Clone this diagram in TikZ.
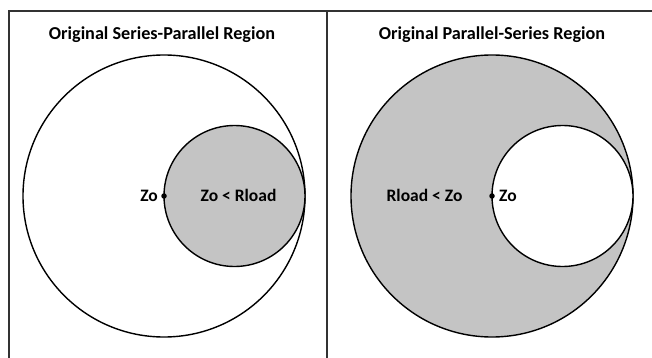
\documentclass[tikz,border=0pt]{standalone}
\usepackage{fontspec}
\setmainfont{Carlito}
\definecolor{regiongray}{RGB}{196,196,196}
\definecolor{framegray}{RGB}{50,50,50}
\begin{document}
\begin{tikzpicture}[x=1pt,y=-1pt,
  frame/.style={draw=framegray,line width=2pt},
  boundary/.style={draw=black,line width=1.4pt},
  title/.style={font=\bfseries\fontsize{18.2}{21}\selectfont,inner sep=0pt},
  lbl/.style={font=\bfseries\fontsize{17.5}{20}\selectfont,inner sep=0pt},
  zdot/.style={circle,fill=black,inner sep=0pt,minimum size=5.5pt}]
\useasboundingbox (0,0) rectangle (652,358);
% panel frame
\draw[frame] (9,358) -- (9,11) -- (652,11);
\draw[frame] (326.5,11) -- (326.5,358);
% left panel: series-parallel region
\coordinate (lc) at (164,196);
\coordinate (ls) at (234.5,196);
\draw[boundary,fill=white] (lc) circle (141pt);
\draw[boundary,fill=regiongray] (ls) circle (70.5pt);
\node[zdot] (lz) at (lc) {};
\node[lbl,anchor=east] (lzo) at ([xshift=-3pt]lz.west) {Zo};
\node[lbl] (lcond) at (238.5,195) {Zo < Rload};
\node[title] (ltitle) at (162,35) {Original Series-Parallel Region};
% right panel: parallel-series region
\coordinate (rc) at (492,196);
\coordinate (rs) at (562.5,196);
\draw[boundary,fill=regiongray] (rc) circle (141pt);
\draw[boundary,fill=white] (rs) circle (70.5pt);
\node[zdot] (rz) at (rc) {};
\node[lbl,anchor=west] (rzo) at ([xshift=4pt]rz.east) {Zo};
\node[lbl] (rcond) at (424.5,195) {Rload < Zo};
\node[title] (rtitle) at (492,35) {Original Parallel-Series Region};
\end{tikzpicture}
\end{document}
